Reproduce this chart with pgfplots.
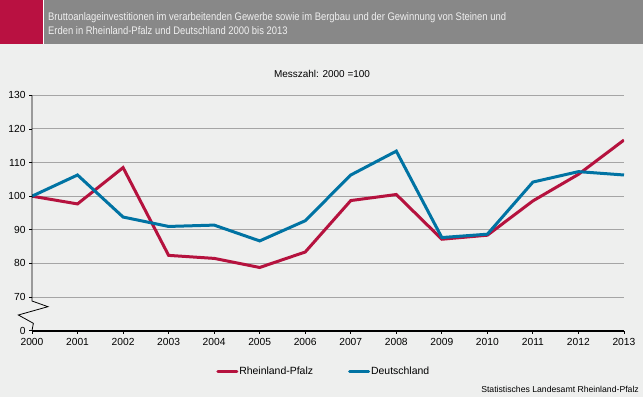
\documentclass[border=0pt]{standalone}
\usepackage{pgfplots}
\pgfplotsset{compat=1.18}
\usepackage{pgfplotstable}
\usepackage{fontspec}
\setmainfont{Liberation Sans}
\definecolor{redline}{RGB}{181,18,62}
\definecolor{blueline}{RGB}{0,115,163}
\definecolor{headred}{RGB}{185,17,65}
\definecolor{headgray}{RGB}{136,136,136}
\definecolor{bgcol}{RGB}{238,239,238}
\definecolor{gridgray}{RGB}{165,165,165}
\pgfplotstableread{
year RP DE
2000 100 100
2001 97.7 106.3
2002 108.5 93.8
2003 82.4 91.0
2004 81.5 91.4
2005 78.8 86.7
2006 83.4 92.7
2007 98.7 106.3
2008 100.5 113.4
2009 87.2 87.7
2010 88.4 88.7
2011 98.6 104.2
2012 106.5 107.3
2013 116.7 106.3
}\datatable
\begin{document}
\begin{tikzpicture}
\begin{scope}[x=1bp,y=1bp]
\fill[bgcol] (0,0) rectangle (643,397);
\fill[white] (0,352.7) rectangle (45,397);
\fill[headred] (0,352.7) rectangle (42.8,397);
\fill[headgray] (44.3,352.7) rectangle (643,397);
\node[anchor=base west, inner sep=0, text=white!94!black] at (48,376.5) {\scalebox{0.86}[1]{\fontsize{11}{13}\selectfont Bruttoanlageinvestitionen im verarbeitenden Gewerbe sowie im Bergbau und der Gewinnung von Steinen und}};
\node[anchor=base west, inner sep=0, text=white!94!black] at (48,362.5) {\scalebox{0.86}[1]{\fontsize{11}{13}\selectfont Erden in Rheinland-Pfalz und Deutschland 2000 bis 2013}};
\node[anchor=base, inner sep=0] at (322,320) {\fontsize{10}{12}\selectfont Messzahl: 2000 =100};
\node[anchor=base east, inner sep=0] at (639,5) {\fontsize{8.7}{10}\selectfont Statistisches Landesamt Rheinland-Pfalz};
\end{scope}
\begin{axis}[
  at={(32bp,66.3bp)}, anchor=south west,
  scale only axis, width=592bp, height=235.4bp,
  xmin=2000, xmax=2013, ymin=60, ymax=130,
  xtick={2000,...,2013},
  ytick={60,70,...,130},
  yticklabels={0,70,80,90,100,110,120,130},
  /pgf/number format/1000 sep={},
  /pgf/number format/assume math mode=true,
  axis lines=left,
  axis line style={-},
  x axis line style={line width=2bp, black},
  y axis line style={draw=none},
  tick align=outside,
  major tick length=3bp,
  tick style={black, line width=0.8bp},
  ymajorgrids,
  grid style={gridgray, line width=1bp},
  ticklabel style={font=\fontsize{10.3}{12}\selectfont},
  xticklabel style={yshift=-1bp},
  clip mode=individual,
  legend style={at={(axis description cs:0.492,-0.175)}, anchor=center, draw=none, fill=none,
    font=\fontsize{10.5}{12}\selectfont, nodes={inner xsep=1bp},
    /tikz/every even column/.append style={column sep=34bp}},
  legend columns=2,
  legend cell align=left,
  legend image code/.code={\draw[#1, line cap=round] (0bp,0bp) -- (19bp,0bp);},
]
\addplot[redline, line width=3bp] table[x=year, y=RP] {\datatable};
\addlegendentry{Rheinland-Pfalz}
\addplot[blueline, line width=3bp] table[x=year, y=DE] {\datatable};
\addlegendentry{Deutschland}
\draw[black, line width=0.8bp] (axis cs:2000,130) -- (axis cs:2000,68.83) -- (axis cs:2000.35,67.14) -- (axis cs:1999.70,64.67) -- (axis cs:2000.03,62.2) -- (axis cs:2000,60);
\end{axis}
\pgfresetboundingbox
\useasboundingbox (0,0) rectangle (643bp,397bp);
\end{tikzpicture}
\end{document}
